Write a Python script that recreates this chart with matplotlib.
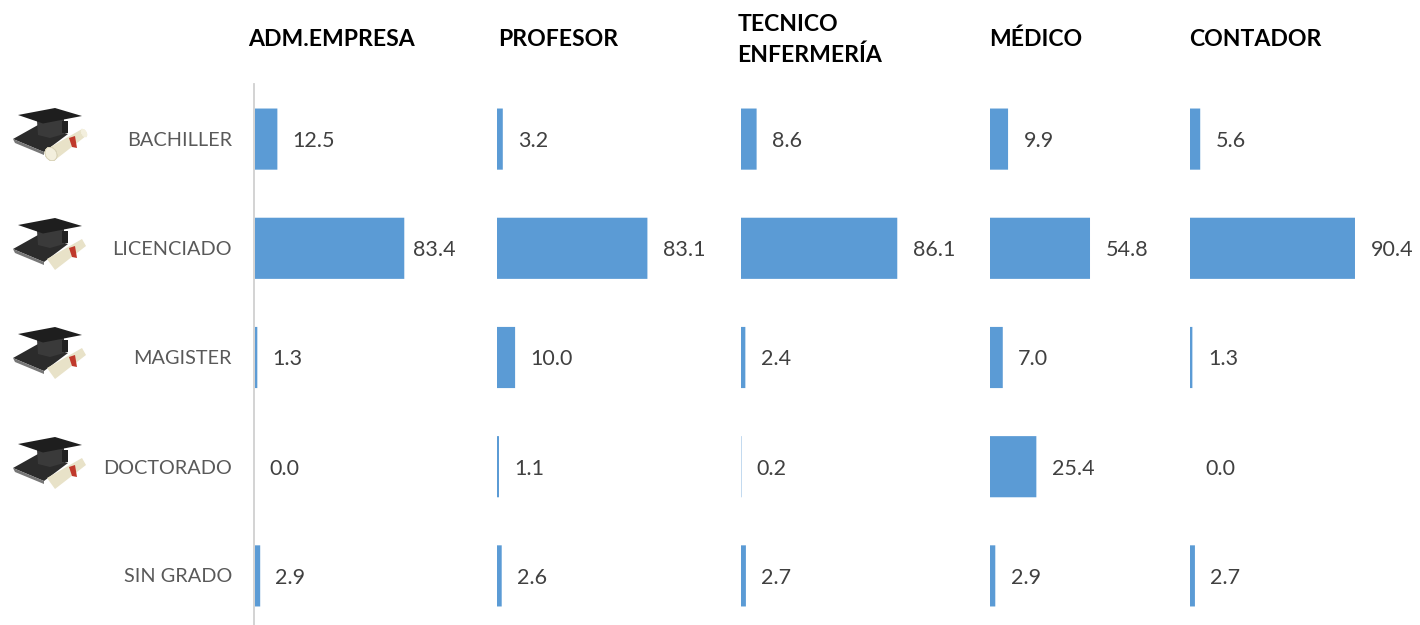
import matplotlib
matplotlib.use("Agg")
import matplotlib.pyplot as plt
from matplotlib.patches import Polygon, Ellipse

categories = ["BACHILLER", "LICENCIADO", "MAGISTER", "DOCTORADO", "SIN GRADO"]
professions = ["ADM.EMPRESA", "PROFESOR", "TECNICO\nENFERMERÍA", "MÉDICO", "CONTADOR"]
adm_empresa = [12.5, 83.4, 1.3, 0.0, 2.9]
profesor = [3.2, 83.1, 10.0, 1.1, 2.6]
tecnico = [8.6, 86.1, 2.4, 0.2, 2.7]
medico = [9.9, 54.8, 7.0, 25.4, 2.9]
contador = [5.6, 90.4, 1.3, 0.0, 2.7]
series = [adm_empresa, profesor, tecnico, medico, contador]

W, H = 1420, 625
plt.rcParams["font.family"] = ["Lato", "DejaVu Sans"]
fig = plt.figure(figsize=(W / 100, H / 100), dpi=100)

BAR = "#5B9BD5"
LABEL = "#595959"
VALUE = "#404040"
panel_left = [255, 497, 741, 990, 1190]
header_x = [248.5, 498.5, 737.5, 989.5, 1189.5]
header_y = [39, 39, 40, 39, 39]
px_per_unit = [1.79, 1.81, 1.815, 1.825, 1.825]
label_gap = [14.5, 15.5, 15.5, 15.5, 15.5]
panel_w = 230
top, bottom = 84.5, 630.5

for i, (vals, x0) in enumerate(zip(series, panel_left)):
    ax = fig.add_axes([x0 / W, 1 - bottom / H, panel_w / W, (bottom - top) / H])
    ax.patch.set_alpha(0)
    ax.set_xlim(0, panel_w / px_per_unit[i])
    ax.set_ylim(len(categories) - 0.5, -0.5)
    bars = ax.barh(range(len(vals)), vals, height=0.56, color=BAR, linewidth=0)
    for b in bars:
        b.set_snap(False)
    for j, v in enumerate(vals):
        off = 8.5 if v == 83.4 else label_gap[i]
        ax.annotate(f"{v:.1f}", (v, j), xytext=(off * 0.72, 0),
                    textcoords="offset points", va="center_baseline", ha="left",
                    fontsize=15.5, color=VALUE)
    ax.axis("off")

# overlay in pixel coordinates for axis line, text headers and icons
ov = fig.add_axes([0, 0, 1, 1], zorder=-1)
ov.set_xlim(0, W)
ov.set_ylim(H, 0)
ov.axis("off")
ov.plot([254, 254], [84, 625], color="#D0D0D0", lw=1.3)

row_y = [138.5, 248, 357, 467, 575.5]
for c, y in zip(categories, row_y):
    ov.text(232, y, c, ha="right", va="center_baseline", fontsize=14.3, color=LABEL)

for p, x, y in zip(professions, header_x, header_y):
    ov.text(x, y, p, ha="left", va="center", fontsize=16.6, fontweight="bold",
            color="black", linespacing=1.5)


def icon(ax, dy):
    """Mortarboard and diploma drawing, offset vertically by dy pixels."""
    def P(points, **kw):
        ax.add_patch(Polygon([(x, y + dy) for x, y in points], closed=True, lw=0, **kw))
    # book
    P([(13, 139), (38, 125), (68, 134), (44, 152)], fc="#2B2B2B")
    P([(13, 139), (44, 152), (44, 155), (15, 143)], fc="#777777")
    # cap body
    P([(37, 121), (64, 118), (64, 134), (50, 138), (38, 135)], fc="#3A3A3A")
    # diploma
    P([(47, 149), (82, 129), (86, 136), (55, 160)], fc="#E8E2C8")
    ax.add_patch(Ellipse((51, 154), 11, 14, angle=-30, fc="#F3EFDD", ec="#D6D0B4", lw=0.5))
    ax.add_patch(Ellipse((84, 133), 5, 9, angle=-30, fc="#F3EFDD", lw=0))
    # tassel
    P([(62, 121), (68, 121), (68, 133), (62, 133)], fc="#222222")
    # board
    P([(18, 115), (55, 108), (82, 116), (43, 123.5)], fc="#1E1E1E")
    # ribbon
    P([(69, 138), (75, 136), (77, 148), (72, 147)], fc="#C0392B")


for y in [138, 248, 357, 467]:
    icon(ov, y - 138)

fig.savefig("out.png", dpi=100)
